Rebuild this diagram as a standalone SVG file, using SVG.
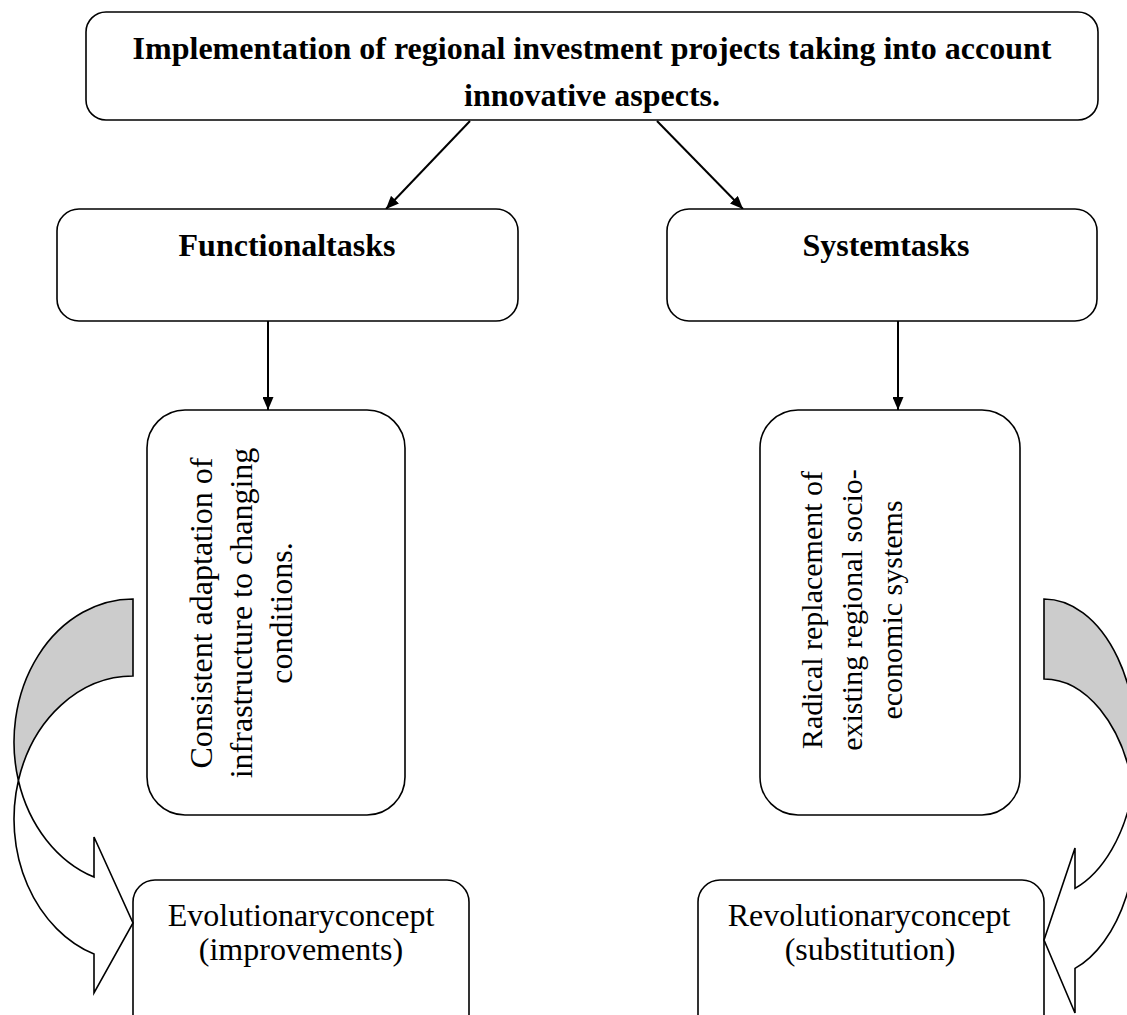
<svg xmlns="http://www.w3.org/2000/svg" width="1127" height="1015" viewBox="0 0 1127 1015">
<style>
.box{fill:#fff;stroke:#000;stroke-width:1.6}
.t{font-family:"Liberation Serif","Times New Roman",serif;font-size:32px;fill:#000}
.b{font-weight:bold}
.c{stroke:#000;stroke-width:2;fill:none}
.sh{stroke:#000;stroke-width:1.6;stroke-linejoin:miter}
</style>
<defs>
<marker id="ah" viewBox="0 0 13 11" refX="13" refY="5.5" markerWidth="13" markerHeight="11" markerUnits="userSpaceOnUse" orient="auto">
<path d="M0,0 L13,5.5 L0,11 Z" fill="#000"/>
</marker>
</defs>
<rect width="1127" height="1015" fill="#fff"/>
<g id="connectors">
<line class="c" x1="470" y1="121" x2="386" y2="209" marker-end="url(#ah)"/>
<line class="c" x1="657" y1="121" x2="743" y2="209" marker-end="url(#ah)"/>
<line class="c" x1="268" y1="321" x2="268" y2="410" marker-end="url(#ah)"/>
<line class="c" x1="898" y1="321" x2="898" y2="410" marker-end="url(#ah)"/>
</g>
<g id="top">
<rect class="box" x="86" y="12" width="1012" height="108" rx="20"/>
<text class="t b" text-anchor="middle" x="592" y="59">Implementation of regional investment projects taking into account</text>
<text class="t b" text-anchor="middle" x="592" y="106">innovative aspects.</text>
</g>
<g id="functional">
<rect class="box" x="57" y="209" width="461" height="112" rx="22"/>
<text class="t b" text-anchor="middle" x="287" y="256">Functionaltasks</text>
</g>
<g id="system">
<rect class="box" x="667" y="209" width="430" height="112" rx="22"/>
<text class="t b" text-anchor="middle" x="886" y="256">Systemtasks</text>
</g>
<g id="consistent">
<rect class="box" x="147" y="410" width="258" height="405" rx="38"/>
<text class="t" text-anchor="middle" transform="translate(212,613) rotate(-90)"><tspan x="0" y="0">Consistent adaptation of</tspan><tspan x="0" y="40">infrastructure to changing</tspan><tspan x="0" y="80">conditions.</tspan></text>
</g>
<g id="radical">
<rect class="box" x="760" y="410" width="260" height="405" rx="38"/>
<text class="t" style="font-size:30px" text-anchor="middle" transform="translate(822,610) rotate(-90)"><tspan x="0" y="0">Radical replacement of</tspan><tspan x="0" y="40">existing regional socio-</tspan><tspan x="0" y="80">economic systems</tspan></text>
</g>
<g id="evolutionary">
<rect class="box" x="133" y="880" width="336" height="160" rx="22"/>
<text class="t" text-anchor="middle" x="301" y="926">Evolutionaryconcept</text>
<text class="t" text-anchor="middle" x="301" y="960">(improvements)</text>
</g>
<g id="revolutionary">
<rect class="box" x="698" y="880" width="346" height="160" rx="22"/>
<text class="t" text-anchor="middle" x="869" y="926">Revolutionaryconcept</text>
<text class="t" text-anchor="middle" x="870" y="960">(substitution)</text>
</g>
<g id="curved-left">
<path class="sh" fill="#cccccc" d="M133,599 A119,143 0 0 0 18.4,780.5 A119,143 0 0 1 133,676 Z"/>
<path class="sh" fill="#ffffff" d="M18.4,780.5 A119,143 0 0 0 94,954.1 L94,993 L133,923 L94,837 L94,877.1 A119,143 0 0 1 18.4,780.5 Z"/>
</g>
<g id="curved-right">
<path class="sh" fill="#cccccc" d="M1044,599 A92.6,149 0 0 1 1133.2,788 A92.6,149 0 0 0 1044,679 Z"/>
<path class="sh" fill="#ffffff" d="M1133.2,788 A92.6,149 0 0 1 1075,968.4 L1075,1013 L1044,940 L1075,848 L1075,888.4 A92.6,149 0 0 0 1133.2,788 Z"/>
</g>
</svg>
